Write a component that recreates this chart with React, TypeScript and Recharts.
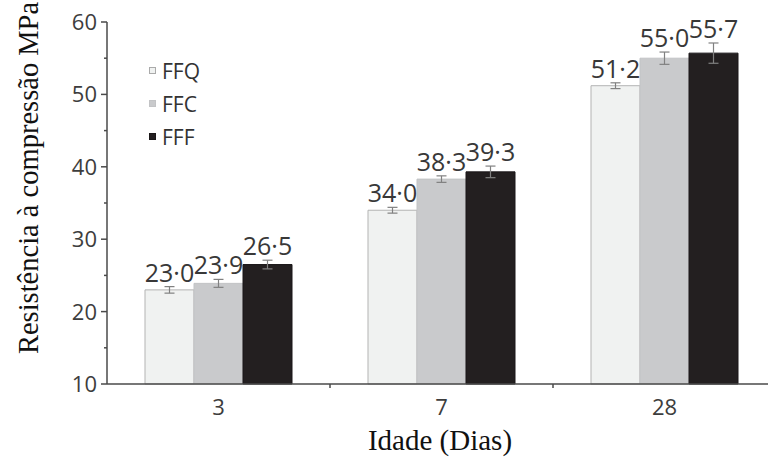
import React from 'react';
import { BarChart, Bar, XAxis, YAxis, ErrorBar, LabelList, Legend, Label } from 'recharts';

const categories = ['3', '7', '28'];
const ffq = [23.0, 34.0, 51.2];
const ffc = [23.9, 38.3, 55.0];
const fff = [26.5, 39.3, 55.7];
const ffqErr = [0.45, 0.4, 0.4];
const ffcErr = [0.55, 0.45, 0.85];
const fffErr = [0.6, 0.8, 1.4];
const yTicks = [10, 15, 20, 25, 30, 35, 40, 45, 50, 55, 60];
const seriesNames = ['FFQ', 'FFC', 'FFF'];

const data = categories.map((c, i) => ({
  idade: c,
  FFQ: ffq[i],
  FFC: ffc[i],
  FFF: fff[i],
  FFQerr: ffqErr[i],
  FFCerr: ffcErr[i],
  FFFerr: fffErr[i],
}));

const styles: Record<string, { fill: string; stroke: string }> = {
  FFQ: { fill: '#f0f2f1', stroke: '#b3b3b3' },
  FFC: { fill: '#c9cacc', stroke: '#c2c3c5' },
  FFF: { fill: '#231f20', stroke: '#1a1718' },
};
const errsBy: Record<string, number[]> = { FFQ: ffqErr, FFC: ffcErr, FFF: fffErr };
const valsBy: Record<string, number[]> = { FFQ: ffq, FFC: ffc, FFF: fff };

const Y_MIN = 10;
const Y_MAX = 60;
const CHART_W = 780;
const CHART_H = 459;
const Y_AXIS_W = 107;
const X_AXIS_H = 75;
const MARGIN = { top: 22, right: 4, bottom: 0, left: 0 };
const BAND_W = (CHART_W - Y_AXIS_W - MARGIN.left - MARGIN.right) / categories.length;
const PX_PER_UNIT = (CHART_H - MARGIN.top - MARGIN.bottom - X_AXIS_H) / (Y_MAX - Y_MIN);

const fmt = (v: number) => v.toFixed(1).replace('.', '\u00B7');

const makeLabel = (key: string) => (props: any) => {
  const { x, y, width, value } = props;
  const v = Number(value);
  const index = valsBy[key].findIndex((d) => Math.abs(d - v) < 1e-6);
  const top = y - (errsBy[key][index] || 0) * PX_PER_UNIT - 5;
  return (
    <text
      x={x + width / 2}
      y={top}
      textAnchor="middle"
      fontFamily="Open Sans"
      fontSize={25}
      fill="#383838"
    >
      {fmt(v)}
    </text>
  );
};

const YTick = (props: any) => {
  const { x, y, payload } = props;
  const major = payload.value % 10 === 0;
  return (
    <g>
      <line x1={x - (major ? 6 : 3)} x2={x} y1={y} y2={y} stroke="#4a4a4a" strokeWidth={1.5} />
      {major && (
        <text x={x - 10} y={y} dy="0.36em" textAnchor="end" fontFamily="Open Sans" fontSize={22} fill="#3d3d3d">
          {payload.value}
        </text>
      )}
    </g>
  );
};

const XTick = (props: any) => {
  const { x, y, payload, index } = props;
  return (
    <g>
      {index > 0 && (
        <line x1={x - BAND_W / 2} x2={x - BAND_W / 2} y1={y} y2={y + 4} stroke="#4a4a4a" strokeWidth={1.5} />
      )}
      <text x={x} y={y + 31} textAnchor="middle" fontFamily="Open Sans" fontSize={22} fill="#3d3d3d">
        {payload.value}
      </text>
    </g>
  );
};

const LegendContent = () => (
  <div style={{ fontFamily: 'Open Sans', fontSize: 21, color: '#333' }}>
    {seriesNames.map((n) => (
      <div key={n} style={{ display: 'flex', alignItems: 'center', height: 33 }}>
        <span
          style={{
            display: 'inline-block',
            width: 7,
            height: 7,
            background: styles[n].fill,
            border: `1px solid ${n === 'FFQ' ? '#aaa' : styles[n].stroke}`,
            boxSizing: 'border-box',
            marginRight: 6,
          }}
        />
        {n}
      </div>
    ))}
  </div>
);

export default function App() {
  return (
    <div style={{ position: 'absolute', left: 0, top: 0, width: 768, height: 459, overflow: 'hidden', background: '#fff' }}>
      <BarChart width={CHART_W} height={CHART_H} data={data} margin={MARGIN} barGap={0} barSize={49}>
        <XAxis
          dataKey="idade"
          height={X_AXIS_H}
          tickSize={0}
          tickMargin={0}
          tick={<XTick />}
          axisLine={{ stroke: '#4a4a4a', strokeWidth: 1.5 }}
          tickLine={false}
        >
          <Label
            content={() => (
              <text x={440} y={450} textAnchor="middle" fontFamily="Liberation Serif" fontSize={29} fill="#111">
                Idade (Dias)
              </text>
            )}
          />
        </XAxis>
        <YAxis
          width={Y_AXIS_W}
          domain={[Y_MIN, Y_MAX]}
          ticks={yTicks}
          interval={0}
          tickSize={0}
          tickMargin={0}
          tick={<YTick />}
          axisLine={{ stroke: '#4a4a4a', strokeWidth: 1.5 }}
          tickLine={false}
        >
          <Label
            content={() => (
              <text
                transform="translate(38,178) rotate(-90)"
                textAnchor="middle"
                fontFamily="Liberation Serif"
                fontSize={28.5}
                fill="#111"
              >
                Resistência à compressão MPa
              </text>
            )}
          />
        </YAxis>
        <Legend
          layout="horizontal"
          verticalAlign="middle"
          align="center"
          content={<LegendContent />}
          wrapperStyle={{ left: 149, top: 54, width: 120, height: 100 }}
        />
        {seriesNames.map((n) => (
          <Bar
            key={n}
            dataKey={n}
            fill={styles[n].fill}
            stroke={styles[n].stroke}
            strokeWidth={1}
            isAnimationActive={false}
          >
            <ErrorBar dataKey={`${n}err`} width={5} stroke="#808080" strokeWidth={1.2} />
            <LabelList dataKey={n} content={makeLabel(n)} />
          </Bar>
        ))}
      </BarChart>
    </div>
  );
}
